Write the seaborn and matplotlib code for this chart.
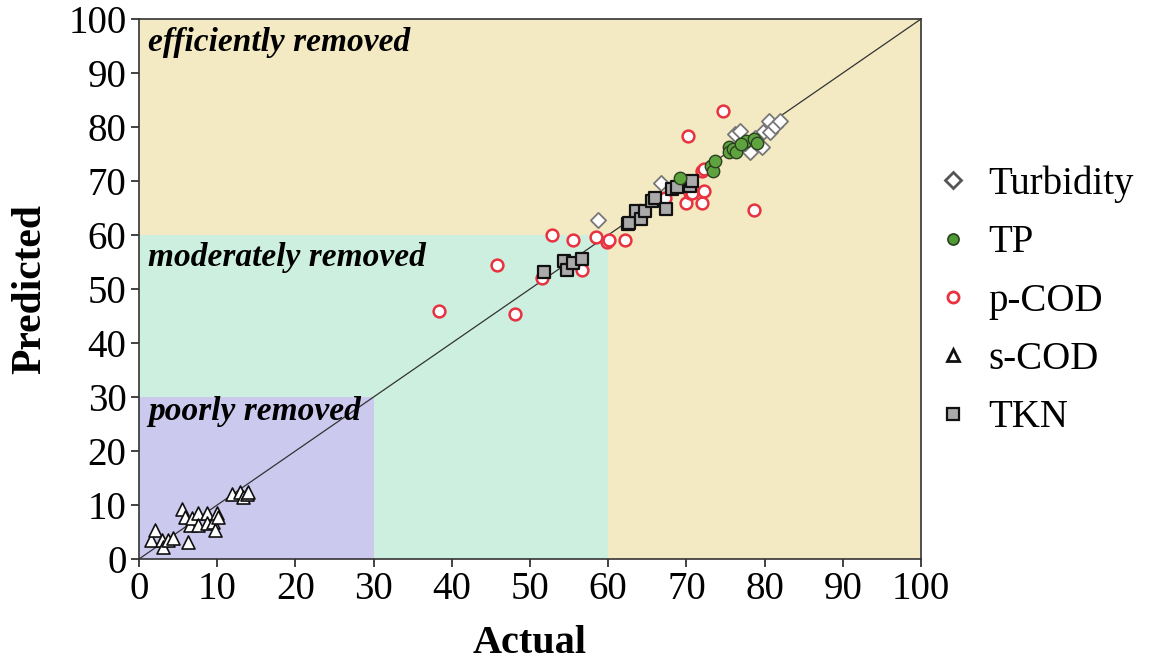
import numpy as np
import pandas as pd
import matplotlib
matplotlib.use("Agg")
import matplotlib.pyplot as plt
import seaborn as sns
from matplotlib.lines import Line2D
from matplotlib.patches import Rectangle

# ---------------- data ----------------
turb_actual = [58.7, 66.8, 76.2, 76.9, 78.1, 79.6, 79.8, 80.5, 80.7, 81.3, 82.0, 77.5, 78.8]
turb_pred   = [62.8, 69.7, 78.7, 79.3, 75.3, 76.2, 79.0, 81.1, 79.0, 80.2, 81.1, 77.0, 78.0]

tp_actual = [69.2, 73.2, 73.4, 73.7, 75.4, 75.4, 76.0, 76.4, 77.6, 78.6, 79.0, 77.0]
tp_pred   = [70.6, 72.8, 71.9, 73.7, 76.2, 75.3, 75.9, 75.3, 77.4, 77.7, 77.1, 76.8]

pcod_actual = [38.3, 45.8, 48.1, 51.5, 52.8, 55.5, 56.7, 58.4, 59.8, 60.1, 62.2,
               67.3, 70.0, 70.2, 70.5, 70.7, 72.0, 72.0, 72.2, 72.2, 74.7, 78.6]
pcod_pred   = [46.0, 54.5, 45.4, 52.1, 60.0, 59.0, 53.6, 59.7, 58.7, 59.0, 59.0,
               66.9, 66.0, 78.4, 67.8, 67.8, 66.0, 71.9, 68.1, 72.2, 82.9, 64.7]

scod_actual = [1.5, 2.0, 2.9, 3.1, 3.7, 4.3, 5.5, 5.9, 6.3, 6.5, 6.8, 7.5, 7.5, 8.7,
               8.7, 9.5, 9.7, 10.0, 10.1, 11.9, 12.9, 13.3, 13.8, 13.9]
scod_pred   = [3.5, 5.4, 3.5, 2.2, 3.5, 3.9, 9.3, 7.8, 3.2, 6.3, 7.6, 8.5, 6.3, 8.5,
               6.7, 6.9, 5.4, 8.5, 7.8, 12.1, 12.4, 11.5, 12.1, 12.4]

tkn_actual = [51.8, 54.3, 54.7, 55.5, 56.7, 62.5, 62.6, 63.6, 64.2, 64.7, 65.6, 66.0,
              67.4, 68.1, 68.8, 70.5, 70.7]
tkn_pred   = [53.2, 55.2, 53.5, 54.9, 55.5, 62.0, 62.2, 64.4, 62.9, 64.4, 66.2, 66.8,
              64.9, 68.5, 68.8, 69.0, 70.0]

series_names = ["Turbidity", "TP", "p-COD", "s-COD", "TKN"]
axis_ticks = list(range(0, 101, 10))

# ---------------- style ----------------
sns.set_theme(style="ticks")
plt.rcParams["font.family"] = ["Liberation Serif", "DejaVu Serif"]
plt.rcParams["text.color"] = "black"
plt.rcParams["axes.labelcolor"] = "black"
plt.rcParams["xtick.color"] = "black"
plt.rcParams["ytick.color"] = "black"

fig = plt.figure(figsize=(11.5, 6.66), dpi=100)
ax = fig.add_axes([0.1209, 0.1607, 0.68, 0.8108])

# background regions
ax.add_patch(Rectangle((0, 0), 100, 100, facecolor="#F3EAC3", edgecolor="none", zorder=0))
ax.add_patch(Rectangle((0, 0), 60, 60, facecolor="#CDEFDF", edgecolor="none", zorder=0))
ax.add_patch(Rectangle((0, 0), 30, 30, facecolor="#CCC9EF", edgecolor="none", zorder=0))

# 1:1 line
sns.lineplot(x=[0, 100], y=[0, 100], color="#333333", lw=0.9, ax=ax, zorder=1)

ms = 80
sns.scatterplot(x=pcod_actual, y=pcod_pred, marker="o", s=ms * 0.9, facecolor="white",
                edgecolor="#E8323F", linewidth=1.8, ax=ax, zorder=3)
sns.scatterplot(x=turb_actual, y=turb_pred, marker="D", s=ms * 0.75, color="white",
                edgecolor="#777777", linewidth=1.3, ax=ax, zorder=3)
sns.scatterplot(x=tkn_actual, y=tkn_pred, marker="s", s=ms * 0.95, color="#AAAAAA",
                edgecolor="#111111", linewidth=1.6, ax=ax, zorder=4)
sns.scatterplot(x=tp_actual, y=tp_pred, marker="o", s=ms, color="#5FA33E",
                edgecolor="#2B3F22", linewidth=1.0, ax=ax, zorder=5)
sns.scatterplot(x=scod_actual, y=scod_pred, marker="^", s=ms * 1.1, color="white",
                edgecolor="#111111", linewidth=1.2, ax=ax, zorder=4)

ax.set_xlim(0, 100)
ax.set_ylim(0, 100)
ax.set_xticks(axis_ticks)
ax.set_yticks(axis_ticks)
ax.tick_params(axis="both", labelsize=28, direction="out", length=6, width=1.2,
               color="#222222", pad=3)
for s in ax.spines.values():
    s.set_linewidth(1.2)
    s.set_color("#333333")

ax.set_xlabel("Actual", fontsize=29, fontweight="bold", labelpad=12)
ax.set_ylabel("Predicted", fontsize=30, fontweight="bold", labelpad=14)

# region labels
lbl_kw = dict(fontsize=24, fontweight="bold", style="italic", va="center", ha="left", zorder=6)
ax.text(1.2, 95.7, "efficiently removed", **lbl_kw)
ax.text(1.2, 55.8, "moderately removed", **lbl_kw)
ax.text(1.2, 27.3, "poorly removed", **lbl_kw)

# legend
handles = [
    Line2D([], [], ls="none", marker="D", markersize=8, markerfacecolor="white",
           markeredgecolor="#555555", markeredgewidth=2),
    Line2D([], [], ls="none", marker="o", markersize=8, markerfacecolor="#4E9A33",
           markeredgecolor="#2B3F22", markeredgewidth=1.2),
    Line2D([], [], ls="none", marker="o", markersize=8, markerfacecolor="white",
           markeredgecolor="#E8323F", markeredgewidth=2),
    Line2D([], [], ls="none", marker="^", markersize=9, markerfacecolor="white",
           markeredgecolor="#111111", markeredgewidth=2),
    Line2D([], [], ls="none", marker="s", markersize=8, markerfacecolor="#AAAAAA",
           markeredgecolor="#111111", markeredgewidth=1.6),
]
fig.legend(handles, series_names, loc="upper left", bbox_to_anchor=(0.797, 0.775),
           frameon=False, fontsize=28, labelspacing=0.55, handletextpad=0.35,
           handlelength=1.1, borderaxespad=0)

fig.savefig("out.png", dpi=100)
